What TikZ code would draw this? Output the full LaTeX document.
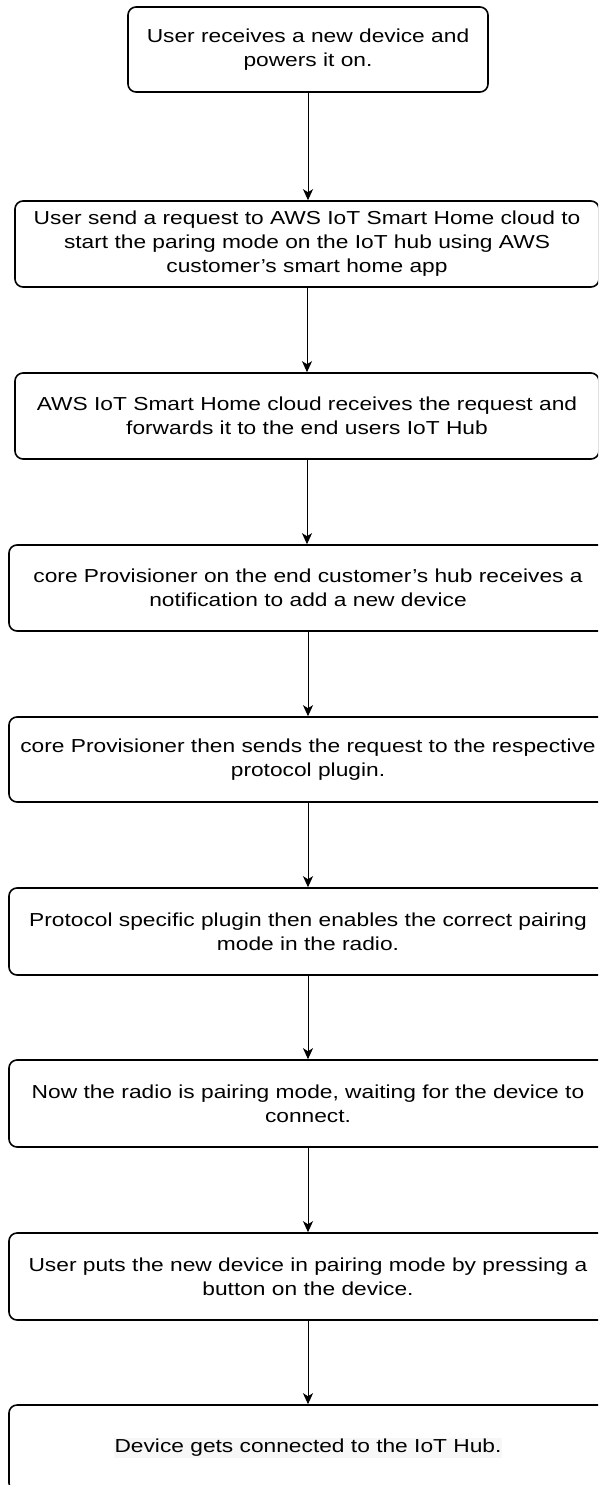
\documentclass[tikz,border=0pt]{standalone}
\usepackage{fontspec}
\usetikzlibrary{arrows.meta}
\newfontfamily\boxfont[FakeStretch=1.21]{Liberation Sans}
\begin{document}
\begin{tikzpicture}[x=1pt,y=1pt,
  stepbox/.style={draw=black, line width=1.6pt, rounded corners=8pt, rectangle,
    inner sep=0pt, align=center, minimum height=86pt,
    font=\boxfont\fontsize{18.8}{24}\selectfont},
  flow/.style={draw=black, line width=1pt, -{Stealth[length=11pt,width=10pt,inset=3pt]}}]
\useasboundingbox (0,0) rectangle (598,-1485);
\clip (0,0) rectangle (598,-1485);
\node[stepbox, minimum width=360pt, minimum height=85pt] (b1) at (308,-49.5)
  {User receives a new device and\\powers it on.};
\node[stepbox, minimum width=584pt] (b2) at (307,-244)
  {User send a request to AWS IoT Smart Home cloud to\\start the paring mode on the IoT hub using AWS\\customer’s smart home app};
\node[stepbox, minimum width=584pt] (b3) at (307,-416)
  {AWS IoT Smart Home cloud receives the request and\\forwards it to the end users IoT Hub};
\node[stepbox, minimum width=598pt] (b4) at (308,-588)
  {core Provisioner on the end customer’s hub receives a\\notification to add a new device};
\node[stepbox, minimum width=598pt, minimum height=85pt] (b5) at (308,-759.5)
  {core Provisioner then sends the request to the respective\\protocol plugin.};
\node[stepbox, minimum width=598pt, minimum height=87pt] (b6) at (308,-931.5)
  {Protocol specific plugin then enables the correct pairing\\mode in the radio.};
\node[stepbox, minimum width=598pt, minimum height=87pt] (b7) at (308,-1103.5)
  {Now the radio is pairing mode, waiting for the device to\\connect.};
\node[stepbox, minimum width=598pt, minimum height=87pt] (b8) at (308,-1276.5)
  {User puts the new device in pairing mode by pressing a\\button on the device.};
\node[stepbox, minimum width=598pt] (b9) at (308,-1448)
  {\setlength{\fboxsep}{1pt}\colorbox{black!3}{Device gets connected to the IoT Hub.}};
\draw[flow] (b1.south) -- (b1.south |- b2.north);
\draw[flow] (b2.south) -- (b2.south |- b3.north);
\draw[flow] (b3.south) -- (b3.south |- b4.north);
\draw[flow] (b4.south) -- (b4.south |- b5.north);
\draw[flow] (b5.south) -- (b5.south |- b6.north);
\draw[flow] (b6.south) -- (b6.south |- b7.north);
\draw[flow] (b7.south) -- (b7.south |- b8.north);
\draw[flow] (b8.south) -- (b8.south |- b9.north);
\end{tikzpicture}
\end{document}
